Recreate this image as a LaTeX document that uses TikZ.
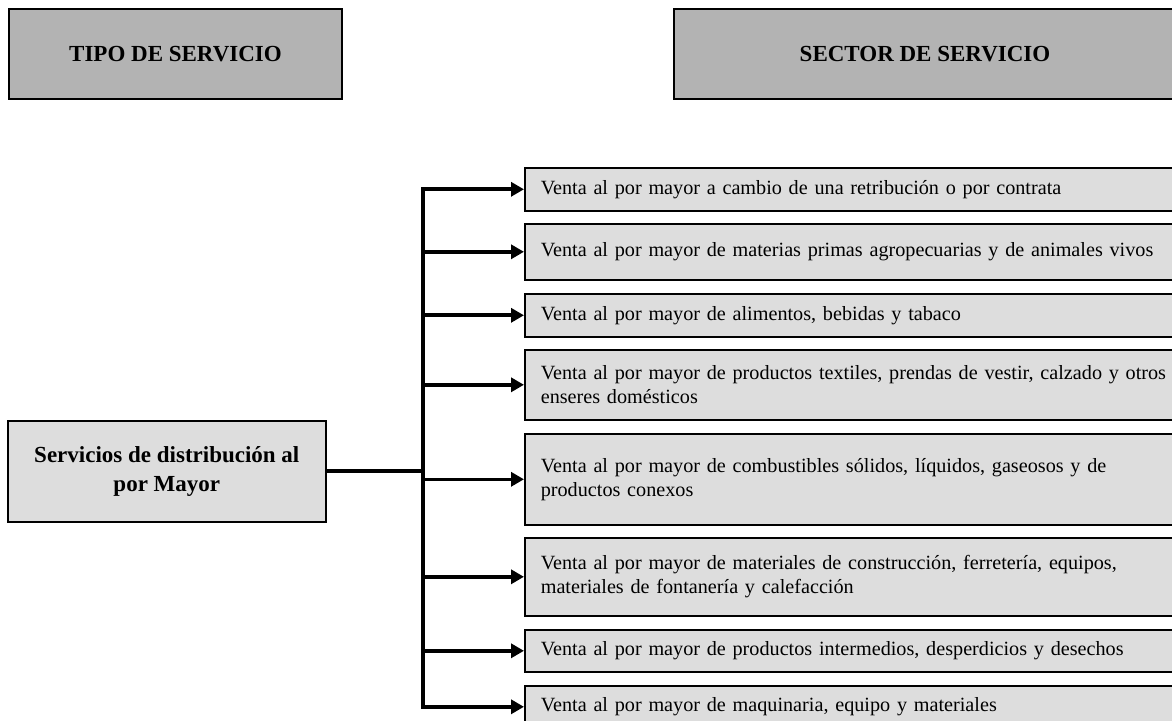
\documentclass[tikz,border=0pt]{standalone}
\usepackage{fontspec}
\setmainfont{Liberation Serif}
\usetikzlibrary{arrows.meta}
\definecolor{headgray}{HTML}{B3B3B3}
\definecolor{boxgray}{HTML}{DDDDDD}
\tikzset{
  head/.style={
    draw=black, line width=1pt, fill=headgray,
    anchor=north west, inner sep=0pt,
    font=\fontsize{11.5}{13.5}\selectfont\bfseries, align=center
  },
  main/.style={
    draw=black, line width=0.8pt, fill=boxgray,
    anchor=north west, inner sep=0pt,
    minimum width=159pt, minimum height=50.5pt,
    font=\fontsize{11.5}{14.5}\selectfont\bfseries, align=center
  },
  sector/.style={
    draw=black, line width=0.8pt, fill=boxgray,
    anchor=north west, inner xsep=8pt, inner ysep=0pt,
    minimum width=350pt, text width=334pt, align=left,
    font=\fontsize{10.1}{12}\selectfont
  },
  bus/.style={line width=1.8pt, line cap=rect},
  branch/.style={line width=1.8pt, -{Triangle[length=6.5pt,width=7pt]}}
}

\begin{document}
\begin{tikzpicture}[x=0.5pt,y=-0.5pt]
  \useasboundingbox (0,0) rectangle (1172,721);
  \clip (0,0) rectangle (1172,721);

  % column headings
  \node[head, minimum width=166.5pt, minimum height=45pt] (tipo) at (8,8)
    {TIPO DE SERVICIO};
  \node[head, minimum width=251pt, minimum height=45pt] (sectorhead) at (673,8)
    {SECTOR DE SERVICIO};

  % service type
  \node[main] (mayor) at (7,420) {Servicios de distribuci\'on al\\por Mayor};

  % service sectors
  \node[sector, minimum height=21.5pt] (v1) at (524,167)
    {Venta al por mayor a cambio de una retribuci\'on o por contrata};
  \node[sector, minimum height=28pt] (v2) at (524,223)
    {Venta al por mayor de materias primas agropecuarias y de animales vivos};
  \node[sector, minimum height=21.5pt] (v3) at (524,293)
    {Venta al por mayor de alimentos, bebidas y tabaco};
  \node[sector, minimum height=35pt] (v4) at (524,349)
    {Venta al por mayor de productos textiles, prendas de vestir, calzado y otros\\enseres dom\'esticos};
  \node[sector, minimum height=45.5pt] (v5) at (524,433)
    {Venta al por mayor de combustibles s\'olidos, l\'iquidos, gaseosos y de\\productos conexos};
  \node[sector, minimum height=39pt] (v6) at (524,537)
    {Venta al por mayor de materiales de construcci\'on, ferreter\'ia, equipos,\\materiales de fontaner\'ia y calefacci\'on};
  \node[sector, minimum height=21pt] (v7) at (524,629)
    {Venta al por mayor de productos intermedios, desperdicios y desechos};
  \node[sector, minimum height=21pt] (v8) at (524,685)
    {Venta al por mayor de maquinaria, equipo y materiales};

  % connectors
  \coordinate (split) at (423,471);
  \draw[bus] (mayor.east |- split) -- (split);
  \draw[bus] (v1.west -| split) -- (v8.west -| split);
  \draw[branch] (v1.west -| split) -- (v1.west);
  \draw[branch] (v2.west -| split) -- (v2.west);
  \draw[branch] (v3.west -| split) -- (v3.west);
  \draw[branch] (v4.west -| split) -- (v4.west);
  \draw[branch] (v5.west -| split) -- (v5.west);
  \draw[branch] (v6.west -| split) -- (v6.west);
  \draw[branch] (v7.west -| split) -- (v7.west);
  \draw[branch] (v8.west -| split) -- (v8.west);
\end{tikzpicture}
\end{document}
